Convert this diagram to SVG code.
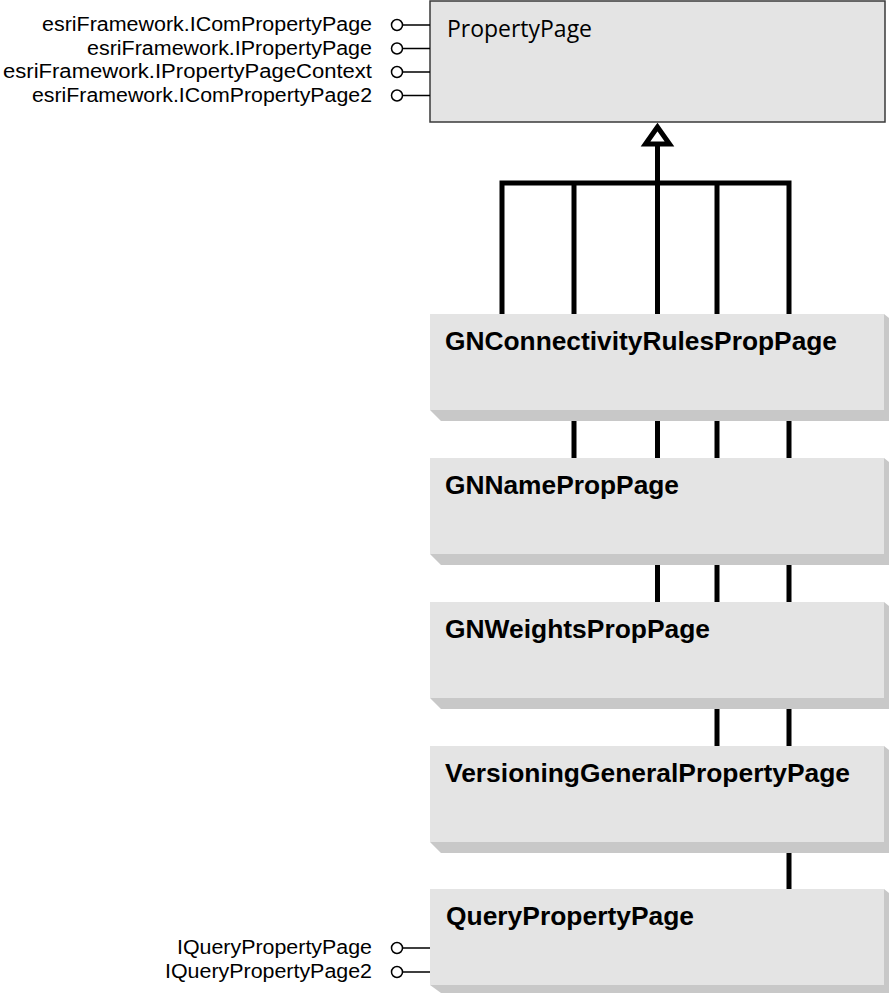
<svg xmlns="http://www.w3.org/2000/svg" width="889" height="993" viewBox="0 0 889 993">
<style>
.face{fill:#e4e4e4}
.shadow{fill:#c8c8c8}
.base{fill:#e4e4e4;stroke:#3a3a3a;stroke-width:1.5}
.title{font-family:"Liberation Sans",Arial,sans-serif;font-weight:bold;font-size:25px;fill:#000}
.iface{font-family:"Liberation Sans",Arial,sans-serif;font-size:20px;fill:#000;text-anchor:end}
.lolli{stroke:#000;stroke-width:1.5;fill:none}
.ring{stroke:#000;stroke-width:1.5;fill:#fff}
.conn{stroke:#000;stroke-width:5;fill:none;stroke-linejoin:miter;stroke-linecap:butt}
</style>
<rect width="889" height="993" fill="#fff"/>
<g id="connectors">
<path class="conn" d="M502,316 V183 H789 V892"/>
<path class="conn" d="M574,183 V460"/>
<path class="conn" d="M717,183 V748"/>
<path class="conn" d="M657.5,146 V604"/>
<polygon class="conn" points="657.5,127 645.5,144 669.5,144" style="fill:#fff"/>
</g>
<g id="PropertyPage">
<rect class="base" x="430" y="1" width="455" height="121"/>
<text x="447" y="37" font-family="'Open Sans','Noto Sans',sans-serif" font-size="23" textLength="145" lengthAdjust="spacingAndGlyphs">PropertyPage</text>
<path class="lolli" d="M403,25 H430 M403,48.5 H430 M403,72 H430 M403,95.5 H430"/>
<circle class="ring" cx="397" cy="25" r="5.5"/>
<circle class="ring" cx="397" cy="48.5" r="5.5"/>
<circle class="ring" cx="397" cy="72" r="5.5"/>
<circle class="ring" cx="397" cy="95.5" r="5.5"/>
<text class="iface" x="372" y="31" textLength="330" lengthAdjust="spacingAndGlyphs">esriFramework.IComPropertyPage</text>
<text class="iface" x="372" y="54.5" textLength="285" lengthAdjust="spacingAndGlyphs">esriFramework.IPropertyPage</text>
<text class="iface" x="372" y="78" textLength="369" lengthAdjust="spacingAndGlyphs">esriFramework.IPropertyPageContext</text>
<text class="iface" x="372" y="101.5" textLength="340" lengthAdjust="spacingAndGlyphs">esriFramework.IComPropertyPage2</text>
</g>
<g id="GNConnectivityRulesPropPage">
<polygon class="shadow" points="430,410 884,410 884,314 889,318 889,421 441,421"/>
<rect class="face" x="430" y="314" width="454" height="96"/>
<text class="title" x="445" y="350" textLength="392" lengthAdjust="spacingAndGlyphs">GNConnectivityRulesPropPage</text>
</g>
<g id="GNNamePropPage">
<polygon class="shadow" points="430,554 884,554 884,458 889,462 889,565 441,565"/>
<rect class="face" x="430" y="458" width="454" height="96"/>
<text class="title" x="445" y="494" textLength="234" lengthAdjust="spacingAndGlyphs">GNNamePropPage</text>
</g>
<g id="GNWeightsPropPage">
<polygon class="shadow" points="430,698 884,698 884,602 889,606 889,709 441,709"/>
<rect class="face" x="430" y="602" width="454" height="96"/>
<text class="title" x="445" y="638" textLength="265" lengthAdjust="spacingAndGlyphs">GNWeightsPropPage</text>
</g>
<g id="VersioningGeneralPropertyPage">
<polygon class="shadow" points="430,842 884,842 884,746 889,750 889,853 441,853"/>
<rect class="face" x="430" y="746" width="454" height="96"/>
<text class="title" x="445" y="782" textLength="405" lengthAdjust="spacingAndGlyphs">VersioningGeneralPropertyPage</text>
</g>
<g id="QueryPropertyPage">
<polygon class="shadow" points="430,985 884,985 884,889 889,893 889,993 441,993"/>
<rect class="face" x="430" y="889" width="454" height="96"/>
<text class="title" x="446" y="925" textLength="248" lengthAdjust="spacingAndGlyphs">QueryPropertyPage</text>
<path class="lolli" d="M403,948 H430 M403,972 H430"/>
<circle class="ring" cx="397" cy="948" r="5.5"/>
<circle class="ring" cx="397" cy="972" r="5.5"/>
<text class="iface" x="372" y="954" textLength="195" lengthAdjust="spacingAndGlyphs">IQueryPropertyPage</text>
<text class="iface" x="372" y="978" textLength="207" lengthAdjust="spacingAndGlyphs">IQueryPropertyPage2</text>
</g>
</svg>
